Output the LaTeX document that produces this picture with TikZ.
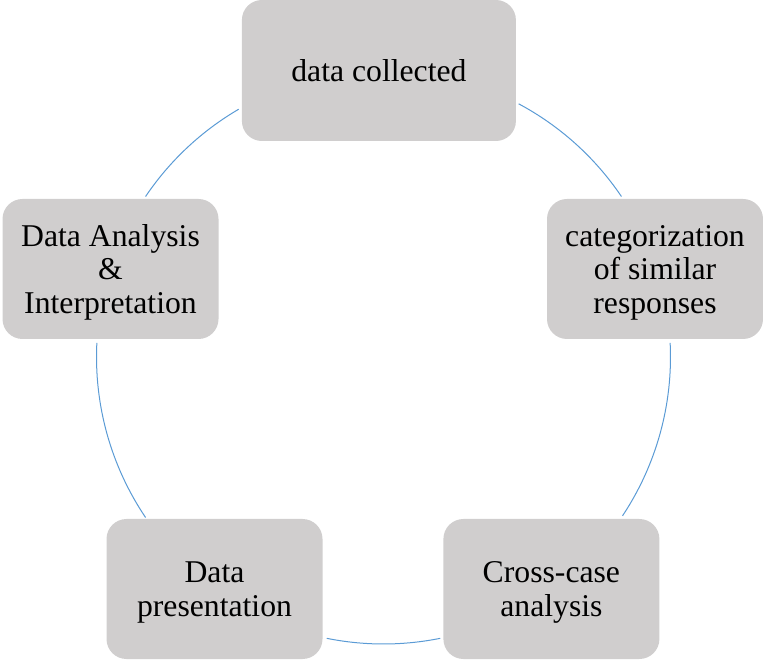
\documentclass[tikz,border=0pt]{standalone}
\usepackage{fontspec}
\setmainfont{Liberation Serif}
\definecolor{boxgray}{HTML}{D0CECE}
\definecolor{ringblue}{HTML}{5B9BD5}
% line strut: ascent and descent of a text line; lines may overlap their struts
\newcommand\lstrut{\rule[-6.85pt]{0pt}{35.05pt}}
\lineskiplimit=-100pt\relax
\begin{document}
\begin{tikzpicture}[x=1pt,y=1pt,
  stage/.style={fill=boxgray, rounded corners=20pt, align=center,
    inner sep=0pt, minimum width=216pt, minimum height=140pt,
    font=\fontsize{31.7}{33.5}\selectfont},
  ring/.style={draw=ringblue, line width=1pt}]
\useasboundingbox (0,0) rectangle (763,659);
% centre of the cycle
\coordinate (O) at (383.5,302);
\def\R{287pt}

% the five stages
\node[stage, minimum width=274pt, minimum height=141pt] (collect) at (378.9,588.5)
  {\lstrut data collected};
\node[stage] (categ) at (655,390)
  {\lstrut categorization\\\lstrut of similar\\\lstrut responses};
\node[stage] (cross) at (551.4,70)
  {\lstrut Cross-case\\\lstrut analysis};
\node[stage] (present) at (214.5,70)
  {\lstrut Data\\\lstrut presentation};
\node[stage] (analysis) at (110.5,390)
  {\lstrut Data Analysis\\\lstrut \&\\\lstrut Interpretation};

% arcs of the cycle between consecutive stages
\draw[ring] ([shift={(61.9:\R)}]O) arc[start angle=61.9, end angle=34, radius=\R];
\draw[ring] ([shift={(2.8:\R)}]O) arc[start angle=2.8, end angle=-33.6, radius=\R];
\draw[ring] ([shift={(-78.6:\R)}]O) arc[start angle=-78.6, end angle=-101.4, radius=\R];
\draw[ring] ([shift={(214:\R)}]O) arc[start angle=214, end angle=177.2, radius=\R];
\draw[ring] ([shift={(146:\R)}]O) arc[start angle=146, end angle=120.3, radius=\R];
\end{tikzpicture}
\end{document}
